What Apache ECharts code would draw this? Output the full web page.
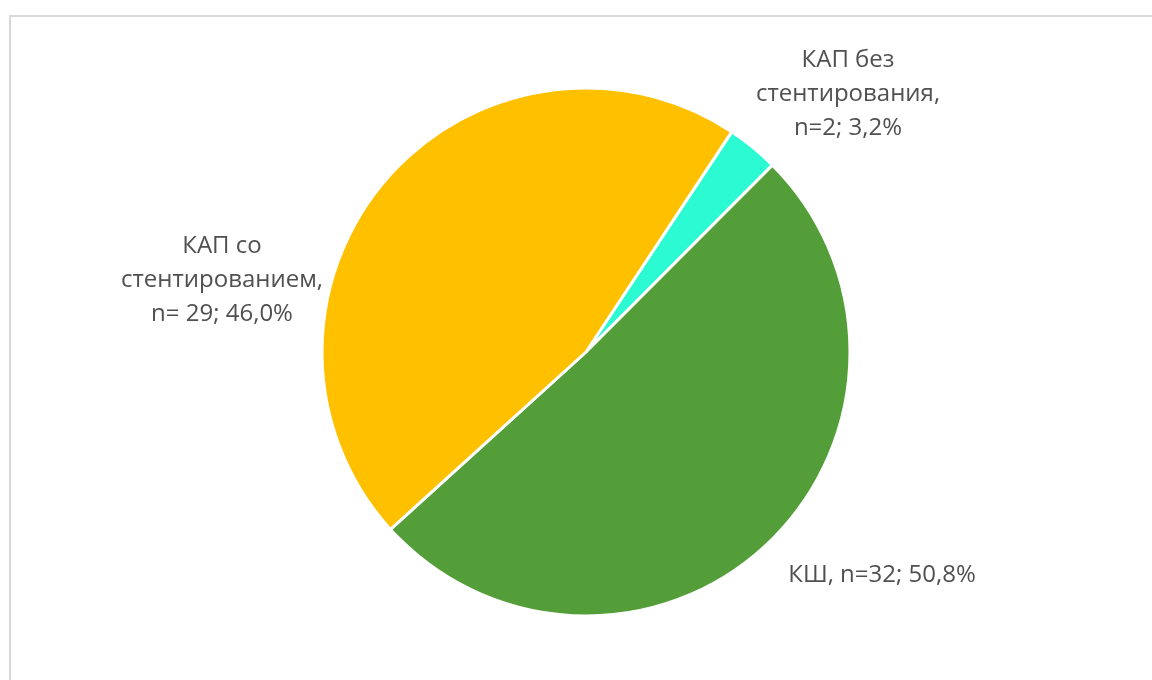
<!DOCTYPE html>
<html><head><meta charset="utf-8">
<script src="https://cdn.jsdelivr.net/npm/echarts@6/dist/echarts.min.js"></script>
<style>html,body{margin:0;padding:0;background:#fff}#c{width:1152px;height:680px;position:relative}</style>
</head><body><div id="c"></div>
<script>
var categories = ['КАП без стентирования', 'КШ', 'КАП со стентированием'];
var counts = [2, 32, 29];
var percents = ['3,2%', '50,8%', '46,0%'];
var labelTexts = ['КАП без\nстентирования,\nn=2; 3,2%', 'КШ, n=32; 50,8%', 'КАП со\nстентированием,\nn= 29; 46,0%'];
var colors = ['#2CFAD3', '#549E39', '#FFC000'];
var labelPos = [[848, 94], [882, 575], [222, 280]];

var chart = echarts.init(document.getElementById('c'));
chart.setOption({
  backgroundColor: '#fff',
  graphic: [{type:'rect', shape:{x:10,y:16,width:1200,height:700}, style:{fill:'none', stroke:'#d9d9d9', lineWidth:2}, silent:true}],
  series: [{
    type: 'pie',
    center: [586, 352],
    radius: [0, 264],
    startAngle: 56.5,
    clockwise: true,
    avoidLabelOverlap: false,
    itemStyle: {borderColor: '#fff', borderWidth: 3},
    label: {
      show: true, position: 'outside', color: '#505050',
      fontFamily: 'Open Sans', fontSize: 24, lineHeight: 34, align: 'center',
      formatter: function(p){ return labelTexts[p.dataIndex]; }
    },
    labelLine: {show: false},
    labelLayout: function(p){
      var pos = labelPos[p.dataIndex];
      return {x: pos[0], y: pos[1], align: 'center', verticalAlign: 'middle'};
    },
    emphasis: {disabled: true},
    data: categories.map(function(c, i){ return {name: c, value: counts[i], itemStyle: {color: colors[i]}}; })
  }],
  animation: false
});
</script></body></html>
